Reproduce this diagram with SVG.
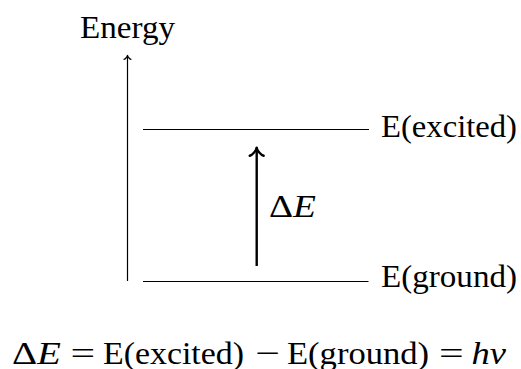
<svg xmlns="http://www.w3.org/2000/svg" width="521" height="369" viewBox="0 0 521 369">
<style>
text{font-family:'Liberation Serif','Times New Roman',Times,Tinos,'Nimbus Roman','DejaVu Serif',serif;fill:#000;}
.lbl{font-size:31px;}
.eq{font-size:32.5px;}
.it{font-style:italic;}
.thin{stroke:#000;stroke-width:1.2;fill:none;}
.thick{stroke:#000;stroke-width:2.4;fill:none;}
</style>
<defs>
<marker id="to" markerUnits="strokeWidth" viewBox="-5 -4 6 8" markerWidth="6" markerHeight="8" refX="0" refY="0" orient="auto" overflow="visible">
<path d="M -3.4,-2.9 C -3.1,-1.8 -1.2,-0.1 0,0 C -1.2,0.1 -3.1,1.8 -3.4,2.9" fill="none" stroke="#000" stroke-width="1" stroke-linecap="round" stroke-linejoin="round"/>
</marker>
</defs>
<rect width="521" height="369" fill="#fff"/>
<g id="energy-axis-label">
<text class="lbl" font-family="Liberation Serif, serif" x="80" y="37.7" textLength="95" lengthAdjust="spacingAndGlyphs">Energy</text>
</g>
<g id="level-excited">
<line class="thin" x1="143" y1="129.5" x2="369" y2="129.5"/>
<text class="lbl" font-family="Liberation Serif, serif" x="381" y="137.3" textLength="136" lengthAdjust="spacingAndGlyphs">E(excited)</text>
</g>
<g id="level-ground">
<line class="thin" x1="143" y1="281.5" x2="368.5" y2="281.5"/>
<text class="lbl" font-family="Liberation Serif, serif" x="381" y="286.7" textLength="136" lengthAdjust="spacingAndGlyphs">E(ground)</text>
</g>
<g id="connectors">
<line class="thin" x1="127.5" y1="281" x2="127.5" y2="55.3" marker-end="url(#to)"/>
<line class="thick" x1="256.7" y1="266" x2="256.7" y2="147.6" marker-end="url(#to)"/>
</g>
<g id="delta-label">
<text class="lbl" font-family="Liberation Serif, serif" x="269" y="216.7" textLength="47" lengthAdjust="spacingAndGlyphs">Δ<tspan class="it">E</tspan></text>
</g>
<g id="equation" font-family="Liberation Serif, serif">
<text class="eq" x="12" y="363.5" textLength="49" lengthAdjust="spacingAndGlyphs">Δ<tspan class="it">E</tspan></text>
<text class="eq" x="70.6" y="363.5" textLength="24.7" lengthAdjust="spacingAndGlyphs">=</text>
<text class="eq" x="103" y="363.5" textLength="141" lengthAdjust="spacingAndGlyphs">E(excited)</text>
<text class="eq" x="255.1" y="363.5" textLength="24.7" lengthAdjust="spacingAndGlyphs">−</text>
<text class="eq" x="287" y="363.5" textLength="142" lengthAdjust="spacingAndGlyphs">E(ground)</text>
<text class="eq" x="439" y="363.5" textLength="24.7" lengthAdjust="spacingAndGlyphs">=</text>
<text class="eq it" x="471.5" y="363.5" textLength="34.5" lengthAdjust="spacingAndGlyphs">hν</text>
</g>
</svg>
